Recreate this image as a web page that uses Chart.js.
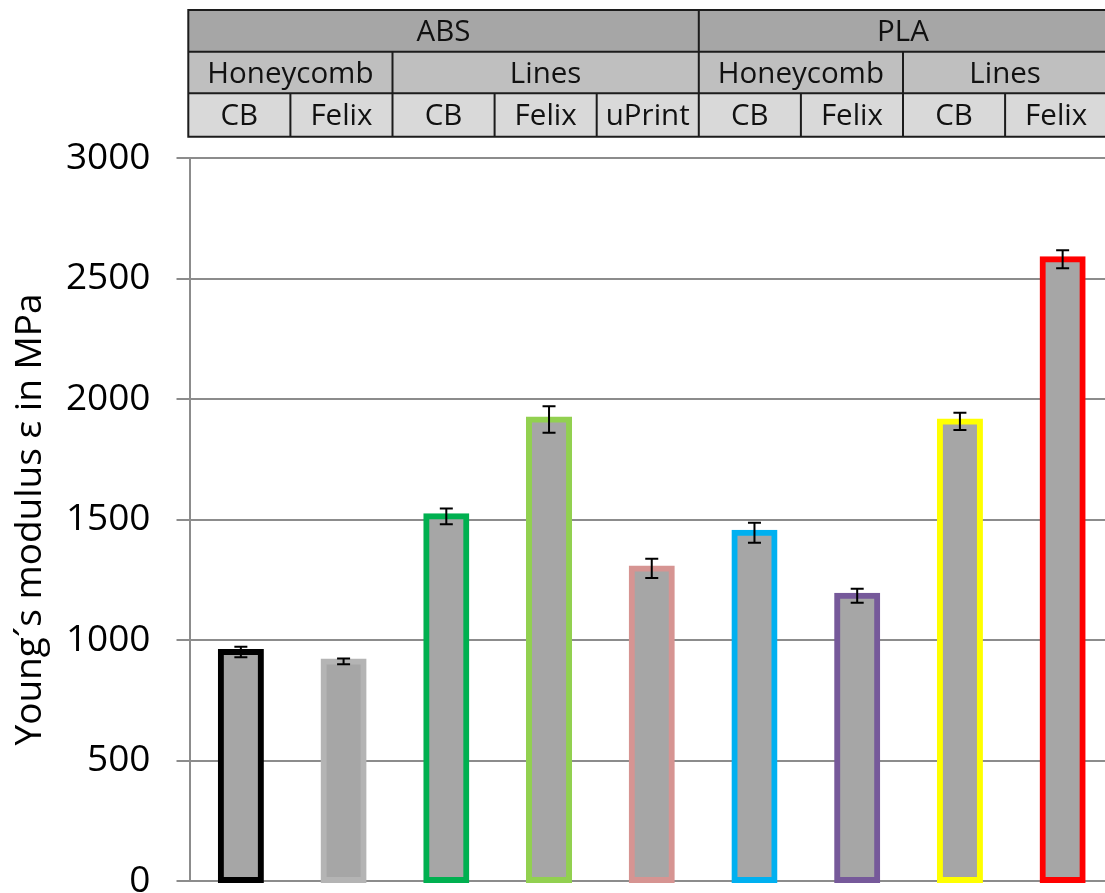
<!DOCTYPE html>
<html>
<head>
<meta charset="utf-8">
<script src="https://cdn.jsdelivr.net/npm/chart.js@4/dist/chart.umd.min.js"></script>
<style>
  html, body { margin: 0; padding: 0; background: #ffffff; overflow: hidden; }
  #wrap { width: 1105px; height: 893px; overflow: hidden; position: relative; }
  canvas { display: block; }
</style>
</head>
<body>
<div id="wrap"><canvas id="chart" width="1116" height="931"></canvas></div>
<script>
// Specimen groups: material / infill pattern / printer
const printers = ['CB', 'Felix', 'CB', 'Felix', 'uPrint', 'CB', 'Felix', 'CB', 'Felix'];
const materials = ['ABS', 'PLA'];
const materialSpans = [5, 4];
const patterns = ['Honeycomb', 'Lines', 'Honeycomb', 'Lines'];
const patternSpans = [2, 3, 2, 2];

// Young's modulus (MPa) and standard deviation
const modulus = [950, 911, 1513, 1915, 1297, 1445, 1184, 1907, 2580];
const modulusSD = [22, 12, 33, 55, 40, 41, 29, 36, 37];

// y axis ticks
const yMin = 0;
const yMax = 3000;
const yStep = 500;

const outlineColors = ['#000000', '#b4b4b4', '#00b050', '#92d050', '#d69492',
                       '#00b0f0', '#76599a', '#ffff00', '#ff0000'];

const FONT = '"Open Sans", "Noto Sans", sans-serif';
const GRID = '#8c8c8c';

// Error bars (mean ± SD) drawn on top of the bars
const errorBars = {
  id: 'errorBars',
  afterDatasetsDraw(chart) {
    const meta = chart.getDatasetMeta(0);
    const y = chart.scales.y;
    const ctx = chart.ctx;
    const cap = 6.5;
    ctx.save();
    ctx.strokeStyle = '#000000';
    ctx.lineWidth = 2;
    meta.data.forEach((bar, i) => {
      const x = bar.x;
      const hi = y.getPixelForValue(modulus[i] + modulusSD[i]);
      const lo = y.getPixelForValue(modulus[i] - modulusSD[i]);
      ctx.beginPath();
      ctx.moveTo(x, hi); ctx.lineTo(x, lo);
      ctx.moveTo(x - cap, hi); ctx.lineTo(x + cap, hi);
      ctx.moveTo(x - cap, lo); ctx.lineTo(x + cap, lo);
      ctx.stroke();
    });
    ctx.restore();
  }
};

// Three-row header table above the plot: material, infill pattern, printer
const headerTable = {
  id: 'headerTable',
  afterDraw(chart) {
    const ctx = chart.ctx;
    const left = chart.chartArea.left - 1.2;
    const colW = 102.1;
    const rows = [
      { top: 10,   bottom: 51.7,  fill: '#a6a6a6', labels: materials, spans: materialSpans },
      { top: 51.7, bottom: 93.3,  fill: '#bfbfbf', labels: patterns,  spans: patternSpans },
      { top: 93.3, bottom: 136.7, fill: '#d9d9d9', labels: printers,  spans: printers.map(() => 1) }
    ];
    const totalCols = printers.length;
    const right = left + colW * totalCols;
    ctx.save();
    rows.forEach(row => {
      ctx.fillStyle = row.fill;
      ctx.fillRect(left, row.top, right - left, row.bottom - row.top);
      let col = 0;
      ctx.fillStyle = '#111111';
      ctx.font = '29.5px ' + FONT;
      ctx.textAlign = 'center';
      ctx.textBaseline = 'middle';
      row.labels.forEach((lab, k) => {
        const x0 = left + col * colW;
        const x1 = left + (col + row.spans[k]) * colW;
        ctx.fillText(lab, (x0 + x1) / 2, (row.top + row.bottom) / 2 + 2);
        col += row.spans[k];
      });
    });
    ctx.strokeStyle = '#1c1c1c';
    ctx.lineWidth = 2;
    ctx.beginPath();
    [10, 51.7, 93.3, 136.7].forEach(yy => { ctx.moveTo(left - 1, yy); ctx.lineTo(right, yy); });
    rows.forEach(row => {
      let col = 0;
      ctx.moveTo(left, row.top); ctx.lineTo(left, row.bottom);
      row.spans.forEach(s => {
        col += s;
        const x = left + col * colW;
        ctx.moveTo(x, row.top); ctx.lineTo(x, row.bottom);
      });
    });
    ctx.stroke();
    ctx.restore();
  }
};

new Chart(document.getElementById('chart'), {
  type: 'bar',
  data: {
    labels: printers,
    datasets: [{
      data: modulus,
      backgroundColor: '#a6a6a6',
      borderColor: outlineColors,
      borderWidth: 6,
      borderSkipped: false,
      inflateAmount: 3,
      barPercentage: 0.39,
      categoryPercentage: 1,
      clip: false
    }]
  },
  options: {
    responsive: false,
    animation: false,
    devicePixelRatio: 1,
    events: [],
    layout: { autoPadding: false, padding: { top: 158, bottom: 50, left: 0, right: 2 } },
    plugins: { legend: { display: false }, tooltip: { enabled: false } },
    scales: {
      x: { display: false },
      y: {
        min: yMin,
        max: yMax,
        afterFit(scale) { scale.width = 189.5; },
        ticks: {
          stepSize: yStep,
          color: '#000000',
          padding: 26,
          font: { family: FONT, size: 37 },
          callback: (v) => String(v)
        },
        grid: {
          color: GRID,
          lineWidth: 2,
          tickLength: 13,
          tickColor: GRID,
          tickWidth: 2
        },
        border: { display: true, color: GRID, width: 2 },
        title: {
          display: true,
          text: 'Young´s modulus ε in MPa',
          color: '#000000',
          font: { family: FONT, size: 37 },
          padding: { top: 8, bottom: 0 }
        }
      }
    }
  },
  plugins: [errorBars, headerTable]
});
</script>
</body>
</html>
